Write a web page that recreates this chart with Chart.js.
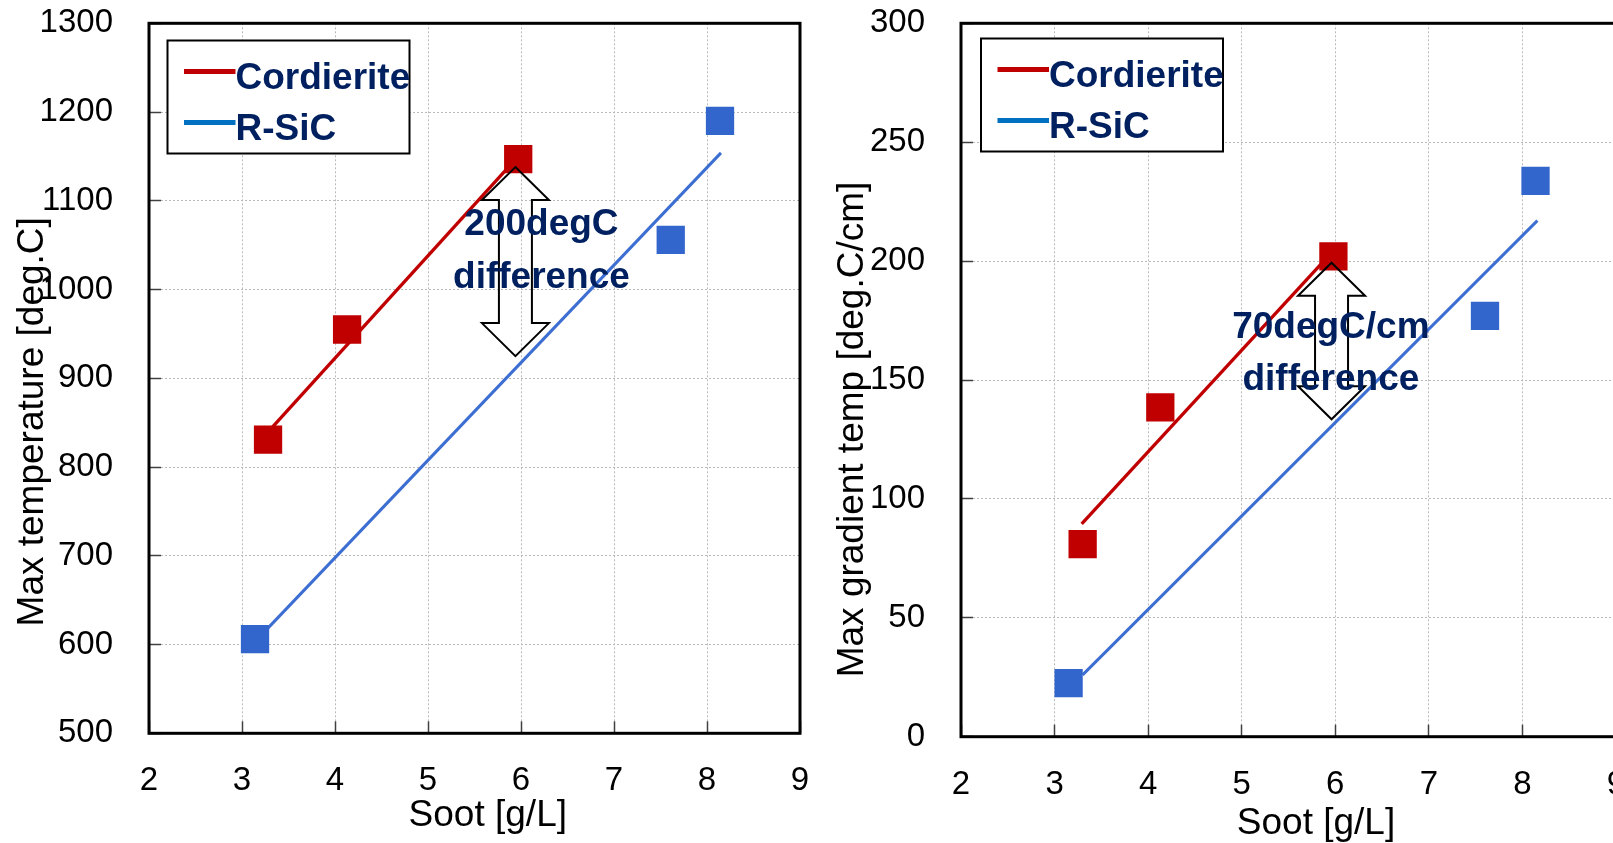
<!DOCTYPE html>
<html lang="en">
<head>
<meta charset="utf-8">
<title>Max temperature / max gradient vs soot</title>
<script src="https://cdn.jsdelivr.net/npm/chart.js@4.4.1/dist/chart.umd.min.js"></script>
<style>
  html, body { margin: 0; padding: 0; overflow: hidden; background: #fff; }
  body { width: 1613px; height: 843px; position: relative; }
  canvas { position: absolute; top: 0; }
  #tempChart { left: 0; }
  #gradChart { left: 820px; }
</style>
</head>
<body>
<canvas id="tempChart" width="820" height="843"></canvas>
<canvas id="gradChart" width="820" height="843"></canvas>
<script>
/* ========================================
   DATA
======================================== */

const seriesNames = ['Cordierite', 'R-SiC'];
const xTicks = [2, 3, 4, 5, 6, 7, 8, 9];

// Left chart - Max temperature [deg.C]
const tempYTicks = [500, 600, 700, 800, 900, 1000, 1100, 1200, 1300];
const tempCordieriteSoot = [3.28, 4.13, 5.97];
const tempCordieriteValues = [831, 955, 1147];
const tempSicSoot = [3.14, 7.61, 8.14];
const tempSicValues = [606, 1056, 1190];
const tempCordieriteFitSoot = [3.30, 5.97];
const tempCordieriteFitValues = [842, 1150];
const tempSicFitSoot = [3.22, 8.15];
const tempSicFitValues = [612, 1154];
const tempArrow = [5.94, 1138, 925];          // soot, top, bottom
const tempNote = ['200degC', 'difference'];
const tempNoteAt = [6.22, 1072.5, 1013];      // soot, line 1, line 2

// Right chart - Max gradient temp [deg.C/cm]
const gradYTicks = [0, 50, 100, 150, 200, 250, 300];
const gradCordieriteSoot = [3.30, 4.13, 5.98];
const gradCordieriteValues = [81, 138.5, 202];
const gradSicSoot = [3.15, 7.60, 8.14];
const gradSicValues = [22.5, 177, 233.7];
const gradCordieriteFitSoot = [3.29, 5.97];
const gradCordieriteFitValues = [89.5, 204];
const gradSicFitSoot = [3.30, 8.16];
const gradSicFitValues = [26, 217];
const gradArrow = [5.96, 199.3, 133.5];
const gradNote = ['70degC/cm', 'difference'];
const gradNoteAt = [5.953, 172.1, 149.9];

/* ========================================
   STYLE
======================================== */

const FONT = "'Liberation Sans', Arial, sans-serif";
const RED = '#C00000';
const BLUE_MARK = '#3366CC';
const BLUE_LINE = '#3D6ED2';
const BLUE_LEGEND = '#0070C0';
const NAVY = '#002060';
const legendColors = [RED, BLUE_LEGEND];

Chart.defaults.font.family = FONT;
Chart.defaults.color = '#000';

function toPoints(xs, ys) {
    return xs.map((x, i) => ({ x: x, y: ys[i] }));
}

/* ========================================
   DRAWING HELPERS
======================================== */

function drawArrow(ctx, x, yTop, yBot) {
    const headH = 33, headW = 33.5, shaftW = 16.5;
    ctx.save();
    ctx.beginPath();
    ctx.moveTo(x, yTop);
    ctx.lineTo(x + headW, yTop + headH);
    ctx.lineTo(x + shaftW, yTop + headH);
    ctx.lineTo(x + shaftW, yBot - headH);
    ctx.lineTo(x + headW, yBot - headH);
    ctx.lineTo(x, yBot);
    ctx.lineTo(x - headW, yBot - headH);
    ctx.lineTo(x - shaftW, yBot - headH);
    ctx.lineTo(x - shaftW, yTop + headH);
    ctx.lineTo(x - headW, yTop + headH);
    ctx.closePath();
    ctx.lineWidth = 2;
    ctx.strokeStyle = '#000';
    ctx.stroke();
    ctx.restore();
}

function drawLegend(ctx, area, lay) {
    const x = area.left + lay.legendDx;
    const y = area.top + lay.legendDy;
    ctx.save();
    ctx.fillStyle = '#fff';
    ctx.fillRect(x, y, 242, 113);
    ctx.lineWidth = 2;
    ctx.strokeStyle = '#000';
    ctx.strokeRect(x, y, 242, 113);
    seriesNames.forEach((name, i) => {
        const ly = y + 31 + i * 51;
        ctx.beginPath();
        ctx.moveTo(x + 16.5, ly);
        ctx.lineTo(x + 68, ly);
        ctx.lineWidth = 5;
        ctx.strokeStyle = legendColors[i];
        ctx.stroke();
        ctx.font = 'bold 37px ' + FONT;
        ctx.fillStyle = NAVY;
        ctx.textAlign = 'left';
        ctx.textBaseline = 'middle';
        ctx.fillText(name, x + 68, ly + 7);
    });
    ctx.restore();
}

// frame, legend, annotation and axis titles
const decorPlugin = {
    id: 'decor',
    beforeDatasetsDraw(chart) {
        const { ctx, chartArea: a } = chart;
        ctx.save();
        ctx.lineWidth = 3;
        ctx.strokeStyle = '#000';
        ctx.strokeRect(a.left, a.top, a.right - a.left, a.bottom - a.top);
        ctx.restore();
    },
    afterDatasetsDraw(chart) {
        const { ctx, chartArea: a, scales } = chart;
        const lay = chart.options.plugins.decor;
        const xs = scales.x, ys = scales.y;

        drawLegend(ctx, a, lay);
        drawArrow(ctx, xs.getPixelForValue(lay.arrow[0]),
            ys.getPixelForValue(lay.arrow[1]), ys.getPixelForValue(lay.arrow[2]));

        ctx.save();
        ctx.font = 'bold 37px ' + FONT;
        ctx.fillStyle = NAVY;
        ctx.textAlign = 'center';
        ctx.textBaseline = 'middle';
        const nx = xs.getPixelForValue(lay.noteAt[0]);
        ctx.fillText(lay.note[0], nx, ys.getPixelForValue(lay.noteAt[1]));
        ctx.fillText(lay.note[1], nx, ys.getPixelForValue(lay.noteAt[2]));
        ctx.restore();
    },
    afterDraw(chart) {
        const { ctx, chartArea: a } = chart;
        const lay = chart.options.plugins.decor;
        ctx.save();
        ctx.font = '37px ' + FONT;
        ctx.fillStyle = '#000';
        ctx.textAlign = 'center';
        ctx.textBaseline = 'alphabetic';
        ctx.fillText(lay.xTitle, (a.left + a.right) / 2 + lay.xTitleDx, a.bottom + lay.xTitleDy);
        ctx.translate(a.left + lay.yTitleDx, (a.top + a.bottom) / 2 + lay.yTitleDy);
        ctx.rotate(-Math.PI / 2);
        ctx.fillText(lay.yTitle, 0, 0);
        ctx.restore();
    }
};

// no extra room for the outer tick labels: the layout padding handles it
function clearScalePadding(s) {
    s.paddingTop = 0;
    s.paddingBottom = 0;
    s.paddingLeft = 0;
    s.paddingRight = 0;
}

/* ========================================
   CHART FACTORY
======================================== */

function createChart(canvasId, d, lay) {
    const ctx = document.getElementById(canvasId);
    const gridStyle = {
        color: '#b9b9b9',
        lineWidth: 1,
        tickLength: -12,
        tickColor: '#404040',
        tickWidth: 1.5,
        tickBorderDash: []
    };
    // in v4 the grid line dash lives under "border"
    const borderStyle = { display: false, dash: [2, 2] };
    return new Chart(ctx, {
        type: 'scatter',
        data: {
            datasets: [
                {
                    label: seriesNames[0],
                    data: toPoints(d.cSoot, d.cVals),
                    pointStyle: 'rect',
                    pointRadius: 20,
                    pointBorderWidth: 0,
                    pointBackgroundColor: RED,
                    showLine: false,
                    order: 0
                },
                {
                    label: seriesNames[1],
                    data: toPoints(d.sSoot, d.sVals),
                    pointStyle: 'rect',
                    pointRadius: 20,
                    pointBorderWidth: 0,
                    pointBackgroundColor: BLUE_MARK,
                    showLine: false,
                    order: 0
                },
                {
                    label: seriesNames[0] + ' fit',
                    data: toPoints(d.cFitSoot, d.cFitVals),
                    showLine: true,
                    borderColor: RED,
                    borderWidth: 3.3,
                    pointRadius: 0,
                    order: 1
                },
                {
                    label: seriesNames[1] + ' fit',
                    data: toPoints(d.sFitSoot, d.sFitVals),
                    showLine: true,
                    borderColor: BLUE_LINE,
                    borderWidth: 3,
                    pointRadius: 0,
                    order: 1
                }
            ]
        },
        options: {
            responsive: false,
            animation: false,
            devicePixelRatio: 1,
            layout: { padding: lay.padding },
            events: [],
            scales: {
                x: {
                    type: 'linear',
                    min: xTicks[0],
                    max: xTicks[xTicks.length - 1],
                    afterBuildTicks: s => { s.ticks = xTicks.map(v => ({ value: v })); },
                    afterFit: s => { s.height = lay.xHeight; clearScalePadding(s); },
                    border: borderStyle,
                    grid: gridStyle,
                    ticks: {
                        font: { size: 33 },
                        padding: 40,
                        color: '#000',
                        maxRotation: 0,
                        callback: v => String(v)
                    }
                },
                y: {
                    type: 'linear',
                    min: d.yTicks[0],
                    max: d.yTicks[d.yTicks.length - 1],
                    afterBuildTicks: s => { s.ticks = d.yTicks.map(v => ({ value: v })); },
                    afterFit: s => { s.width = lay.yWidth; clearScalePadding(s); },
                    border: borderStyle,
                    grid: gridStyle,
                    ticks: {
                        font: { size: 33 },
                        padding: 48,
                        color: '#000',
                        callback: v => String(v)
                    }
                }
            },
            plugins: {
                legend: { display: false },
                tooltip: { enabled: false },
                decor: lay
            }
        },
        plugins: [decorPlugin]
    });
}

/* ========================================
   INIT
======================================== */

document.addEventListener('DOMContentLoaded', function() {
    createChart('tempChart', {
        yTicks: tempYTicks,
        cSoot: tempCordieriteSoot, cVals: tempCordieriteValues,
        sSoot: tempSicSoot, sVals: tempSicValues,
        cFitSoot: tempCordieriteFitSoot, cFitVals: tempCordieriteFitValues,
        sFitSoot: tempSicFitSoot, sFitVals: tempSicFitValues
    }, {
        padding: { left: 0, top: 23.3, right: 17.5, bottom: 0 },
        yWidth: 149,
        xHeight: 109.7,
        legendDx: 18.5, legendDy: 17.2,
        arrow: tempArrow,
        note: tempNote, noteAt: tempNoteAt,
        xTitle: 'Soot [g/L]', xTitleDx: 13.3, xTitleDy: 92.7,
        yTitle: 'Max temperature [deg.C]', yTitleDx: -106.3, yTitleDy: 43.5
    });

    createChart('gradChart', {
        yTicks: gradYTicks,
        cSoot: gradCordieriteSoot, cVals: gradCordieriteValues,
        sSoot: gradSicSoot, sVals: gradSicValues,
        cFitSoot: gradCordieriteFitSoot, cFitVals: gradCordieriteFitValues,
        sFitSoot: gradSicFitSoot, sFitVals: gradSicFitValues
    }, {
        padding: { left: 0, top: 23.3, right: 24, bottom: 0 },
        yWidth: 141,
        xHeight: 106.3,
        legendDx: 20, legendDy: 15.2,
        arrow: gradArrow,
        note: gradNote, noteAt: gradNoteAt,
        xTitle: 'Soot [g/L]', xTitleDx: 27.5, xTitleDy: 97.3,
        yTitle: 'Max gradient temp [deg.C/cm]', yTitleDx: -97.7, yTitleDy: 49.5
    });
});
</script>
</body>
</html>
